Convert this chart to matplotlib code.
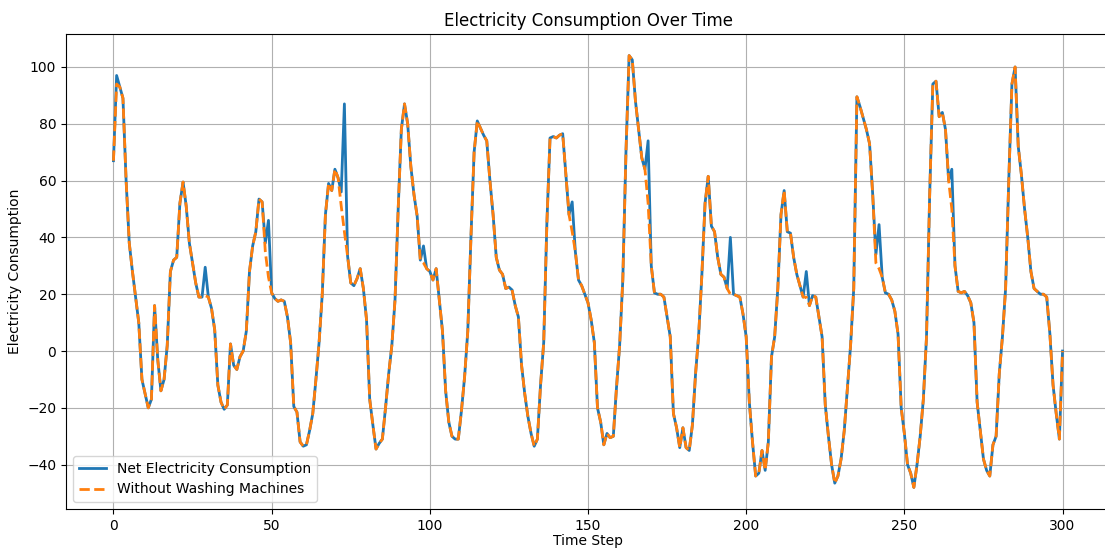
import numpy as np
import matplotlib
matplotlib.use("Agg")
import matplotlib.pyplot as plt

# Net electricity consumption, time steps 0..300
net_consumption = [
    67, 97, 93, 89, 60, 38, 28, 19, 10, -10,
    -15, -20, -17, 16, -3, -14, -10, 2, 28, 32,
    33, 52, 59.5, 51, 38, 31, 24, 19, 19, 29.5,
    19, 15, 7.5, -12, -18, -20.5, -19, 2.5, -5, -6.5,
    -2, 0, 7, 28, 37, 42, 53.5, 52.5, 38, 46,
    20.5, 18.5, 17.5, 18, 17.5, 12, 3, -19.5, -21.5, -32,
    -33.5, -33, -28, -22, -10, 3, 20, 48, 59, 56.5,
    64, 61, 56, 87, 33.5, 24, 23, 25.5, 29, 22,
    11, -17, -26, -34.5, -32.5, -31, -20, -8, 2, 18,
    50, 78, 87, 80, 65, 55, 47.5, 32, 37, 29,
    28, 25, 29, 18, 7, -14, -25, -30, -31, -31,
    -21, -9, 7, 40, 70, 81, 78.5, 76, 74, 60,
    48, 33, 28.5, 27, 22, 22.5, 21.5, 16, 12, -5,
    -15, -23, -29, -33.5, -31, -12, 3, 45, 75, 75.5,
    75, 76, 76.5, 62, 48, 52.5, 35, 25, 23, 20,
    17, 11, 3, -20, -25, -33, -29, -30.5, -30, -13,
    2, 25, 70, 104, 102.5, 88, 78, 68, 64, 74,
    30, 20.5, 20, 20, 19, 12, 5, -22, -27, -34,
    -27, -34, -35, -26, -8, 6, 27, 52, 61.5, 44,
    42, 33, 27, 26, 22, 40, 20, 19.5, 19, 13,
    5, -18, -32, -44, -43, -35, -42, -32, -2, 5,
    22, 48, 56.5, 42, 41.5, 33, 27, 23, 19, 28,
    16, 19.5, 19, 12, 5, -19, -30, -40, -46.5, -44,
    -38, -28, -13, 2, 22, 89.5, 86, 82, 78, 73,
    55, 34, 44.5, 26, 20.5, 20, 18, 14, 6, -20,
    -29, -40, -43, -48, -40, -30, -17, 5, 55, 94,
    95, 82.5, 84, 78, 60, 64, 30, 21, 20.5, 21,
    19.5, 17, 10, -18, -28, -38, -42, -44, -33, -30,
    -8, 5, 22, 60, 94, 100, 72, 62, 50, 40,
    28, 22, 21, 20, 20, 19, 6, -12, -22, -31,
    0,
]

# Washing machine load at the time steps where it is visible
wm_steps = [1, 29, 48, 49, 72, 73, 98, 145, 169, 195, 219, 241, 242, 265]
wm_load = [3, 10, 3, 20, 5, 45, 6, 10.5, 22, 20, 9, 3, 15.5, 14]

time_steps = np.arange(len(net_consumption))
net = np.array(net_consumption, dtype=float)
without_wm = net.copy()
for s, l in zip(wm_steps, wm_load):
    without_wm[s] -= l

fig = plt.figure(figsize=(11.05, 5.49), dpi=100)
# The reference crops the right side of the axes box
ax = fig.add_axes([66 / 1105, 1 - 509 / 549, (1110 - 66) / 1105, (509 - 34) / 549])
ax.plot(time_steps, net, color="#1f77b4", linestyle="-", linewidth=2,
        label="Net Electricity Consumption")
ax.plot(time_steps, without_wm, color="#ff7f0e", linestyle="--", linewidth=2,
        label="Without Washing Machines")
ax.set_title("Electricity Consumption Over Time")
ax.set_xlabel("Time Step", labelpad=1)
ax.set_ylabel("Electricity Consumption")
ax.grid(True)
ax.legend(loc="lower left")
fig.savefig("out.png", dpi=100)
